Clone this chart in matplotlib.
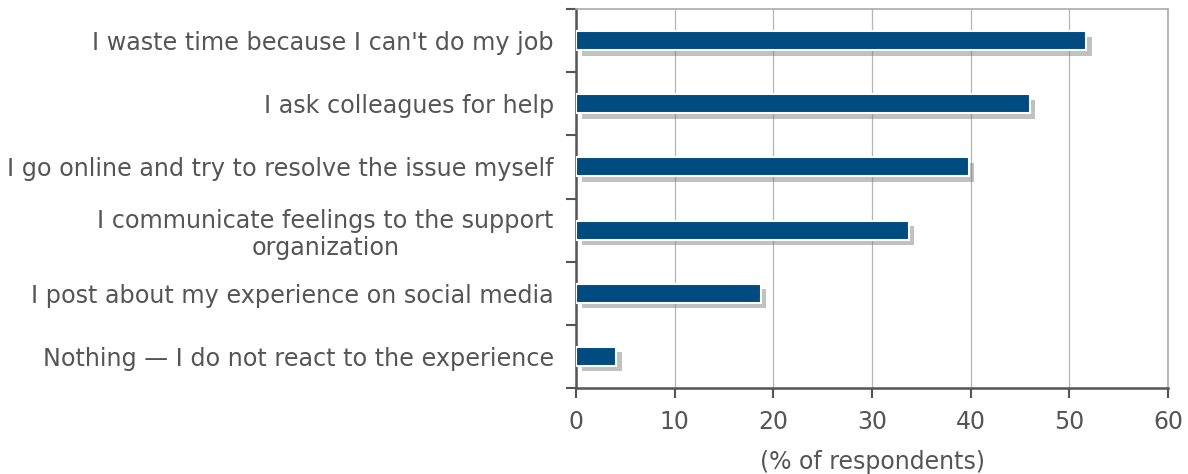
import matplotlib.pyplot as plt
import matplotlib.patheffects as pe
from matplotlib.ticker import FixedLocator

categories = [
    "I waste time because I can't do my job",
    "I ask colleagues for help",
    "I go online and try to resolve the issue myself",
    "I communicate feelings to the support\norganization",
    "I post about my experience on social media",
    "Nothing \u2014 I do not react to the experience",
]
values = [51.7, 46.0, 39.8, 33.7, 18.7, 4.1]
x_ticks = [0, 10, 20, 30, 40, 50, 60]

plt.rcParams['font.family'] = ['DejaVu Sans']
text_color = '#555555'

fig = plt.figure(figsize=(11.88, 4.74), dpi=100)
ax = fig.add_axes([576 / 1188, 1 - 388 / 474, (1168 - 576) / 1188, (388 - 9) / 474])

pos = list(range(len(categories)))[::-1]
bars = ax.barh(pos, values, height=0.3, color='#004B7F', edgecolor='white', linewidth=1.5, zorder=3)
for b in bars:
    b.set_path_effects([pe.SimplePatchShadow(offset=(4, -4), shadow_rgbFace='#777777', alpha=0.45), pe.Normal()])

ax.set_xlim(0, 60)
ax.set_ylim(-0.5, len(categories) - 0.5)
ax.set_xticks(x_ticks)
ax.set_xticklabels([str(t) for t in x_ticks], fontsize=17, color=text_color)
ax.xaxis.grid(True, color='#b5b5b5', linewidth=0.9, zorder=0)

# y ticks sit on category boundaries, labels centered on bars
ax.yaxis.set_major_locator(FixedLocator([p - 0.5 for p in range(len(categories) + 1)]))
ax.set_yticklabels([])
ax.yaxis.set_minor_locator(FixedLocator(pos))
ax.set_yticklabels(categories, minor=True, fontsize=17.2, color=text_color)
for lbl in ax.get_yticklabels(minor=True):
    lbl.set_multialignment('center')
    lbl.set_horizontalalignment('right')
ax.tick_params(axis='y', which='minor', length=0, pad=16)
ax.tick_params(axis='y', which='major', length=7, width=1.5, color='#555555')
ax.tick_params(axis='x', length=7, width=1.5, color='#555555', pad=9)

for s in ['left', 'bottom']:
    ax.spines[s].set_color('#555555')
    ax.spines[s].set_linewidth(1.8)
for s in ['top', 'right']:
    ax.spines[s].set_color('#aaaaaa')
    ax.spines[s].set_linewidth(1.2)

ax.set_xlabel('(% of respondents)', fontsize=17, color=text_color, labelpad=11)

fig.savefig('out.png', dpi=100)
